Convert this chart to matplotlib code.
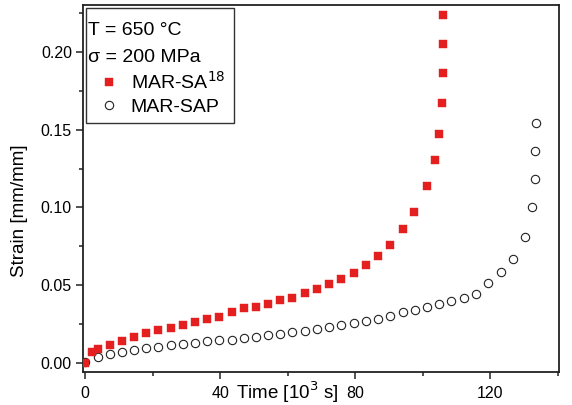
import matplotlib
matplotlib.use("Agg")
import matplotlib.pyplot as plt
from matplotlib.ticker import MultipleLocator, FormatStrFormatter
from matplotlib.patches import Rectangle

plt.rcParams['font.family'] = ['Liberation Sans', 'DejaVu Sans']

# Data (time in 10^3 s, strain in mm/mm)
sa18_time = [0.0, 2.0, 3.7, 7.4, 10.9, 14.5, 18.1, 21.7, 25.4, 28.9, 32.6, 36.2,
             39.8, 43.5, 47.1, 50.7, 54.3, 57.8, 61.4, 65.1, 68.6, 72.3, 75.9,
             79.5, 83.2, 86.7, 90.4, 94.0, 97.5, 101.2, 103.5, 104.8, 105.6,
             105.9, 106.0, 106.1]
sa18_strain = [0.0, 0.0071, 0.0086, 0.0114, 0.0142, 0.0167, 0.0189, 0.0210,
               0.0225, 0.0243, 0.0260, 0.0279, 0.0296, 0.0328, 0.0350, 0.0360,
               0.0378, 0.0403, 0.0420, 0.0446, 0.0474, 0.0504, 0.0540, 0.0577,
               0.0630, 0.0690, 0.0757, 0.0858, 0.0970, 0.1137, 0.1304, 0.1474,
               0.1669, 0.1866, 0.2053, 0.2239]

sap_time = [0.0, 3.75, 7.4, 10.9, 14.5, 18.1, 21.7, 25.4, 28.9, 32.6, 36.2, 39.8,
            43.5, 47.1, 50.7, 54.3, 57.8, 61.4, 65.1, 68.6, 72.3, 75.9, 79.5,
            83.2, 86.7, 90.4, 94.0, 97.6, 101.2, 104.9, 108.4, 112.1, 115.8,
            119.3, 123.0, 126.6, 130.1, 132.3, 133.1, 133.3, 133.5]
sap_strain = [0.0006, 0.0039, 0.0056, 0.0071, 0.0082, 0.0093, 0.0103, 0.0112,
              0.0120, 0.0129, 0.0140, 0.0150, 0.0150, 0.0157, 0.0163, 0.0176,
              0.0185, 0.0196, 0.0206, 0.0217, 0.0230, 0.0243, 0.0255, 0.0268,
              0.0283, 0.0302, 0.0324, 0.0339, 0.0360, 0.0378, 0.0399, 0.0418,
              0.0444, 0.0515, 0.0584, 0.0667, 0.0811, 0.1000, 0.1182, 0.1362,
              0.1540]

x_major_ticks = [0, 40, 80, 120]
y_major_ticks = [0.00, 0.05, 0.10, 0.15, 0.20]

fig = plt.figure(figsize=(5.72, 4.05), dpi=100)
ax = fig.add_axes([0.1451, 0.0815, 0.8322, 0.9062])

ax.plot(sap_time, sap_strain, linestyle='none', marker='o', ms=6.0,
        mfc='none', mec='#222222', mew=0.8, label='MAR-SAP', zorder=2)
ax.plot(sa18_time, sa18_strain, linestyle='none', marker='s', ms=5.4,
        mfc='#e3201f', mec='#e3201f', mew=0.3, label='MAR-SA$^{18}$', zorder=3)

ax.set_xlim(-0.6, 140.3)
ax.set_ylim(-0.0059, 0.2302)

ax.set_xticks(x_major_ticks)
ax.set_yticks(y_major_ticks)
ax.xaxis.set_minor_locator(MultipleLocator(20))
ax.yaxis.set_minor_locator(MultipleLocator(0.025))
ax.yaxis.set_major_formatter(FormatStrFormatter('%.2f'))

for s in ax.spines.values():
    s.set_linewidth(1.3)
    s.set_color('#222222')
ax.tick_params(which='major', direction='out', length=5, width=1.1,
               labelsize=11.5, color='#222222', pad=3)
ax.tick_params(which='minor', direction='out', length=3, width=1.1,
               color='#222222')
ax.tick_params(axis='x', which='major', pad=5)

ax.set_ylabel('Strain [mm/mm]', fontsize=13.5)
ax.yaxis.set_label_coords(-0.1155, 0.44)
ax.set_xlabel('Time [10$^3$ s]', fontsize=13.5)
ax.xaxis.set_label_coords(0.43, -0.02)

# legend box
ax.add_patch(Rectangle((0.0063, 0.6785), 0.3109, 0.3133, transform=ax.transAxes,
                       facecolor='white', edgecolor='#333333', linewidth=1.0,
                       zorder=4))

h, l = ax.get_legend_handles_labels()
leg = ax.legend([h[1], h[0]], [l[1], l[0]],
                title='T = 650 °C\n\u03c3 = 200 MPa',
                loc='upper left', bbox_to_anchor=(0.0063, 0.958),
                borderaxespad=0, fontsize=14,
                title_fontsize=14, alignment='left', frameon=False,
                handlelength=2.15, handletextpad=0.05, borderpad=0.1,
                labelspacing=0.28, numpoints=1)
leg.get_title().set_linespacing(1.72)
leg.set_zorder(5)

fig.savefig('out.png', dpi=100)
